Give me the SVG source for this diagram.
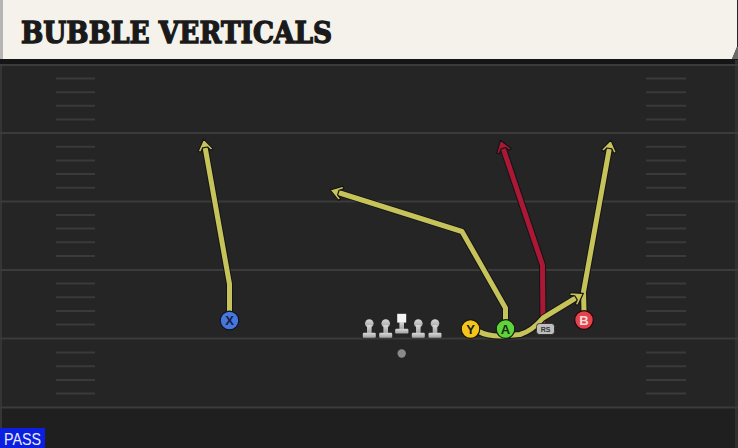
<svg xmlns="http://www.w3.org/2000/svg" width="738" height="448" viewBox="0 0 738 448">
<style>
.major{stroke:#3b3b3b;stroke-width:2}
.hash{stroke:#3a3a3a;stroke-width:2}
.under{fill:none;stroke:#141414;stroke-width:7;stroke-linejoin:round;stroke-linecap:butt}
.yel{fill:none;stroke:#c6c35b;stroke-width:5;stroke-linejoin:round}
.red{fill:none;stroke:#ab1836;stroke-width:5;stroke-linejoin:round}
.lbl{font-family:"Liberation Sans",Arial,sans-serif;font-weight:bold;font-size:13px;text-anchor:middle}
.ol{fill:url(#lg)}
</style>
<defs>
<marker id="ay" markerUnits="userSpaceOnUse" markerWidth="24" markerHeight="24" viewBox="-12 -12 24 24" refX="0" refY="0" orient="auto">
<path d="M5,0 L-6,-7.5 L-7.5,-5.2 L-3.5,-2.4 L-3.5,2.4 L-7.5,5.2 L-6,7.5 Z" fill="#c6c35b" stroke="#141414" stroke-width="1.2" stroke-linejoin="round"/>
</marker>
<marker id="ar" markerUnits="userSpaceOnUse" markerWidth="24" markerHeight="24" viewBox="-12 -12 24 24" refX="0" refY="0" orient="auto">
<path d="M5,0 L-6,-7.5 L-7.5,-5.2 L-3.5,-2.4 L-3.5,2.4 L-7.5,5.2 L-6,7.5 Z" fill="#ab1836" stroke="#141414" stroke-width="1.2" stroke-linejoin="round"/>
</marker>
<linearGradient id="lg" x1="0" y1="0" x2="0" y2="1">
<stop offset="0" stop-color="#d8d8d8"/><stop offset="1" stop-color="#a0a0a0"/>
</linearGradient>
</defs>

<!-- field -->
<rect x="0" y="0" width="738" height="448" fill="#252525"/>
<rect x="0" y="407" width="738" height="41" fill="#1f1f1f"/>
<rect x="0" y="59" width="738" height="5" fill="#151515"/>
<rect x="0" y="64" width="2" height="384" fill="#353535"/>
<rect x="735" y="60" width="3" height="388" fill="#303030"/>

<g id="field-lines">
<line class="major" x1="0" y1="65" x2="738" y2="65"/>
<line class="major" x1="0" y1="133" x2="738" y2="133"/>
<line class="major" x1="0" y1="201.5" x2="738" y2="201.5"/>
<line class="major" x1="0" y1="270" x2="738" y2="270"/>
<line class="major" x1="0" y1="338.5" x2="738" y2="338.5"/>
<line class="major" x1="0" y1="407.5" x2="738" y2="407.5"/>
</g>
<g id="hashes">
<path class="hash" d="M56,78.6H95M56,92.2H95M56,105.8H95M56,119.4H95M56,146.7H95M56,160.4H95M56,174H95M56,187.8H95M56,215H95M56,228.5H95M56,242.2H95M56,256H95M56,283.5H95M56,297.2H95M56,311H95M56,324.5H95M56,352.5H95M56,366.2H95M56,380H95M56,393.5H95"/>
<path class="hash" d="M646,78.6H686M646,92.2H686M646,105.8H686M646,119.4H686M646,146.7H686M646,160.4H686M646,174H686M646,187.8H686M646,215H686M646,228.5H686M646,242.2H686M646,256H686M646,283.5H686M646,297.2H686M646,311H686M646,324.5H686M646,352.5H686M646,366.2H686M646,380H686M646,393.5H686"/>
</g>

<!-- header -->
<g id="header">
<rect x="0" y="0" width="4" height="59" fill="#b5b5b5"/>
<path d="M3,0 H737 V47 L732,59 H3 Z" fill="#f5f2eb"/>
<path d="M737,47 L732,59 H738 V47 Z" fill="#6a6a6a"/>
<text x="21" y="43" font-family="'DejaVu Serif',serif" font-weight="bold" font-size="30" fill="#1a1a1a" stroke="#1a1a1a" stroke-width="1.4" stroke-linejoin="miter" textLength="311" lengthAdjust="spacingAndGlyphs">BUBBLE VERTICALS</text>
</g>

<!-- connectors -->
<g id="routes">
<path class="under" d="M229.5,311 L229.5,284 L204.5,144"/>
<path class="yel" d="M229.5,311 L229.5,284 L204.5,144" marker-end="url(#ay)"/>

<path class="under" d="M505.5,320 L505.5,308 L462,231.5 L335,191.5"/>
<path class="yel" d="M505.5,320 L505.5,308 L462,231.5 L335,191.5" marker-end="url(#ay)"/>

<path class="under" d="M543,323 L542.5,265 L502,145"/>
<path class="red" d="M543,323 L542.5,265 L502,145" marker-end="url(#ar)"/>

<path class="under" d="M584,311 L583.5,292 L610,145"/>
<path class="yel" d="M584,311 L583.5,292 L610,145" marker-end="url(#ay)"/>

<path class="under" d="M478,331 Q487,336.5 503,336 L520,334.5 Q532,331 543,318 L579,296"/>
<path class="yel" d="M478,331 Q487,336.5 503,336 L520,334.5 Q532,331 543,318 L579,296" marker-end="url(#ay)"/>
</g>

<!-- offensive line -->
<g id="ol-lt"><circle class="ol" cx="369.3" cy="323.5" r="4.3"/><rect class="ol" x="367" y="325" width="4.6" height="8.5"/><rect class="ol" x="362.8" y="332.8" width="13" height="5" rx="1.2"/></g>
<g id="ol-lg"><circle class="ol" cx="385.7" cy="323.5" r="4.3"/><rect class="ol" x="383.4" y="325" width="4.6" height="8.5"/><rect class="ol" x="379.2" y="332.8" width="13" height="5" rx="1.2"/></g>
<g id="ol-c"><rect x="397.2" y="313.8" width="9" height="8.8" fill="#f4f4f4"/><rect class="ol" x="399.4" y="322" width="4.6" height="7.5"/><rect class="ol" x="395.2" y="328.8" width="13.2" height="4.8" rx="1.2"/></g>
<g id="ol-rg"><circle class="ol" cx="418.3" cy="323.5" r="4.3"/><rect class="ol" x="416" y="325" width="4.6" height="8.5"/><rect class="ol" x="411.8" y="332.8" width="13" height="5" rx="1.2"/></g>
<g id="ol-rt"><circle class="ol" cx="435" cy="323.5" r="4.3"/><rect class="ol" x="432.7" y="325" width="4.6" height="8.5"/><rect class="ol" x="428.5" y="332.8" width="13" height="5" rx="1.2"/></g>
<g id="qb"><circle cx="401.7" cy="353.5" r="4.2" fill="#8a8a8a"/></g>

<!-- skill players -->
<g id="X"><circle cx="229.5" cy="320.5" r="9.3" fill="#4776de" stroke="#101522" stroke-width="1.2"/><text class="lbl" x="229.5" y="325.2" fill="#16203d">X</text></g>
<g id="Y"><circle cx="470.5" cy="329" r="9.3" fill="#f3c41d" stroke="#1a1500" stroke-width="1.2"/><text class="lbl" x="470.5" y="333.7" fill="#1a1a1a">Y</text></g>
<g id="A"><circle cx="505.5" cy="329" r="9.3" fill="#5fd23c" stroke="#0f2008" stroke-width="1.2"/><text class="lbl" x="505.5" y="333.7" fill="#173010">A</text></g>
<g id="RS"><rect x="536.5" y="323.5" width="18" height="11" rx="3" fill="#bdbdbd" stroke="#222" stroke-width="0.8"/><text x="545.5" y="331.8" font-family="'Liberation Sans',Arial,sans-serif" font-weight="bold" font-size="7" text-anchor="middle" fill="#333">RS</text></g>
<g id="B"><circle cx="584" cy="320" r="9.3" fill="#e3434c" stroke="#2a0608" stroke-width="1.2"/><text class="lbl" x="584" y="324.7" fill="#fbdada">B</text></g>

<g id="pass-tag">
<rect x="0" y="428" width="45" height="20" fill="#0b1fe0"/>
<text x="4" y="445" font-family="'Liberation Sans',Arial,sans-serif" font-size="16" fill="#e8ecff" textLength="37" lengthAdjust="spacingAndGlyphs">PASS</text>
</g>
</svg>
